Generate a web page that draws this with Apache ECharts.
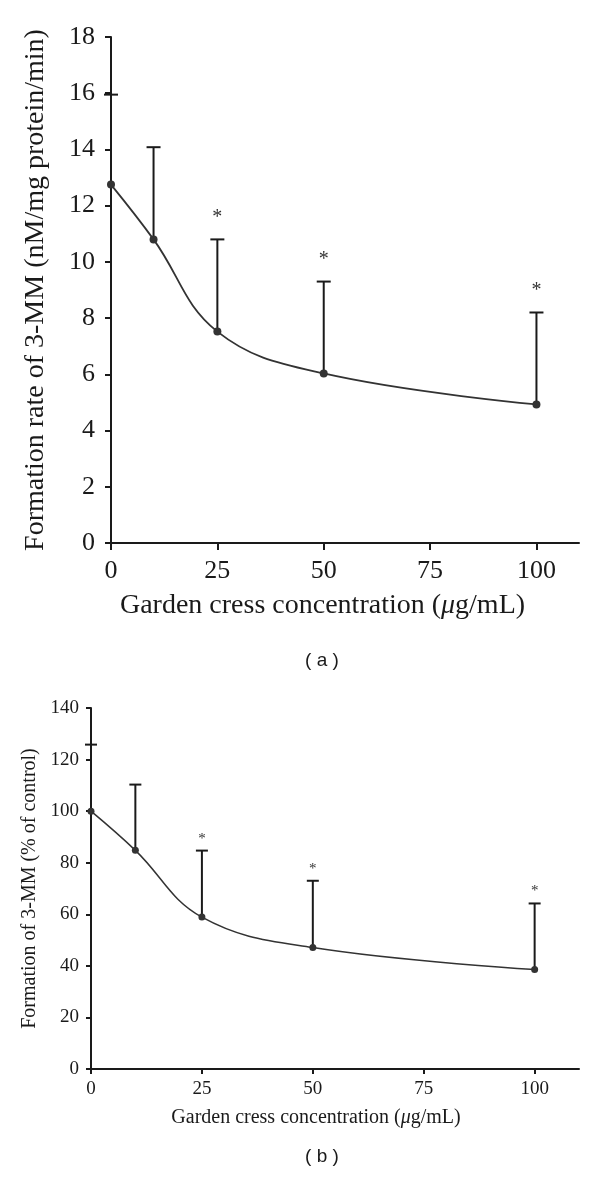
<!DOCTYPE html>
<html>
<head>
<meta charset="utf-8">
<script src="https://cdn.jsdelivr.net/npm/echarts@6/dist/echarts.min.js"></script>
<style>
html,body{margin:0;padding:0;background:#fff;}
#chart{width:600px;height:1179px;}
</style>
</head>
<body>
<div id="chart"></div>
<script>
// ---- data ----
var concentrations = [0, 10, 25, 50, 100];
var rateMean = [12.75, 10.8, 7.52, 6.03, 4.93];
var rateUpper = [15.95, 14.08, 10.8, 9.3, 8.2];
var pctMean = [100, 84.8, 58.9, 47.1, 38.6];
var pctUpper = [125.8, 110.3, 84.7, 73.0, 64.2];
var significant = [false, false, true, true, true];
var xTickValues = [0, 25, 50, 75, 100];
var panelLabels = ['( a )', '( b )'];
var titles = {
  rateY: 'Formation rate of 3-MM (nM/mg protein/min)',
  pctY: 'Formation of 3-MM (% of control)',
  x: 'Garden cress concentration ('
};

var serif = '"Liberation Serif", "DejaVu Serif", serif';

function pairs(xs, ys) { return xs.map(function (x, i) { return [x, ys[i]]; }); }
function errData(xs, mean, upper) {
  return xs.map(function (x, i) { return [x, mean[i], upper[i], significant[i] ? 1 : 0]; });
}

function errRender(capHalf, starGap, starSize) {
  return function (params, api) {
    var x = api.value(0);
    var p0 = api.coord([x, api.value(1)]);
    var p1 = api.coord([x, api.value(2)]);
    var children = [
      { type: 'line', shape: { x1: p0[0], y1: p0[1], x2: p1[0], y2: p1[1] },
        style: { stroke: '#1a1a1a', lineWidth: 2 } },
      { type: 'line', shape: { x1: p1[0] - capHalf, y1: p1[1], x2: p1[0] + capHalf, y2: p1[1] },
        style: { stroke: '#1a1a1a', lineWidth: 2 } }
    ];
    if (api.value(3)) {
      children.push({ type: 'text', x: p1[0], y: p1[1] - starGap,
        style: { text: '*', font: starSize + 'px ' + serif, fill: '#333', align: 'center', verticalAlign: 'middle' } });
    }
    return { type: 'group', children: children };
  };
}

function xAxisCfg(gridIndex, fs, nameFs, margin, tickLen, nameGap, shiftPad) {
  return {
    type: 'value', gridIndex: gridIndex, min: 0, max: 110,
    name: titles.x + '{i|μ}g/mL)', nameLocation: 'middle', nameGap: nameGap,
    nameTextStyle: { fontFamily: serif, fontSize: nameFs, color: '#1a1a1a', padding: [0, shiftPad, 0, 0],
      rich: { i: { fontFamily: serif, fontStyle: 'italic', fontSize: nameFs, color: '#1a1a1a' } } },
    axisLine: { show: true, onZero: false, lineStyle: { color: '#1a1a1a', width: 2 } },
    axisTick: { show: true, length: tickLen, customValues: xTickValues, lineStyle: { color: '#1a1a1a', width: 2 } },
    axisLabel: { customValues: xTickValues, margin: margin, fontFamily: serif, fontSize: fs, color: '#1a1a1a' },
    splitLine: { show: false }
  };
}
function yAxisCfg(gridIndex, max, interval, name, fs, nameFs, margin, tickLen, nameGap) {
  return {
    type: 'value', gridIndex: gridIndex, min: 0, max: max, interval: interval,
    name: name, nameLocation: 'middle', nameGap: nameGap,
    nameTextStyle: { fontFamily: serif, fontSize: nameFs, color: '#1a1a1a' },
    axisLine: { show: true, lineStyle: { color: '#1a1a1a', width: 2 } },
    axisTick: { show: true, length: tickLen, lineStyle: { color: '#1a1a1a', width: 2 } },
    axisLabel: { margin: margin, fontFamily: serif, fontSize: fs, color: '#1a1a1a' },
    splitLine: { show: false }
  };
}

var chart = echarts.init(document.getElementById('chart'), null, { renderer: 'canvas' });
chart.setOption({
  backgroundColor: '#fff',
  animation: false,
  grid: [
    { left: 111, top: 37, width: 468, height: 506 },
    { left: 91, top: 708, width: 488, height: 361 }
  ],
  xAxis: [ xAxisCfg(0, 26, 28, 15, 7, 49, 45), xAxisCfg(1, 19, 20, 11, 5, 39, 38) ],
  yAxis: [ yAxisCfg(0, 18, 2, titles.rateY, 26, 28, 16, 6, 61),
           yAxisCfg(1, 140, 20, titles.pctY, 19, 20, 12, 5, 50) ],
  graphic: [
    { type: 'text', x: 322, y: 661, style: { text: panelLabels[0], font: '19px "Liberation Sans", Arial, sans-serif', fill: '#1a1a1a', align: 'center', verticalAlign: 'middle' } },
    { type: 'text', x: 322, y: 1157, style: { text: panelLabels[1], font: '19px "Liberation Sans", Arial, sans-serif', fill: '#1a1a1a', align: 'center', verticalAlign: 'middle' } }
  ],
  series: [
    { type: 'custom', xAxisIndex: 0, yAxisIndex: 0, data: errData(concentrations, rateMean, rateUpper),
      renderItem: errRender(7, 22, 20), z: 1 },
    { type: 'line', xAxisIndex: 0, yAxisIndex: 0, data: pairs(concentrations, rateMean), smooth: 0.4,
      symbol: 'circle', symbolSize: 8, lineStyle: { color: '#333', width: 1.8 }, itemStyle: { color: '#333' }, z: 3 },
    { type: 'custom', xAxisIndex: 1, yAxisIndex: 1, data: errData(concentrations, pctMean, pctUpper),
      renderItem: errRender(6, 12, 15), z: 1 },
    { type: 'line', xAxisIndex: 1, yAxisIndex: 1, data: pairs(concentrations, pctMean), smooth: 0.4,
      symbol: 'circle', symbolSize: 7, lineStyle: { color: '#333', width: 1.5 }, itemStyle: { color: '#333' }, z: 3 }
  ]
});
</script>
</body>
</html>
